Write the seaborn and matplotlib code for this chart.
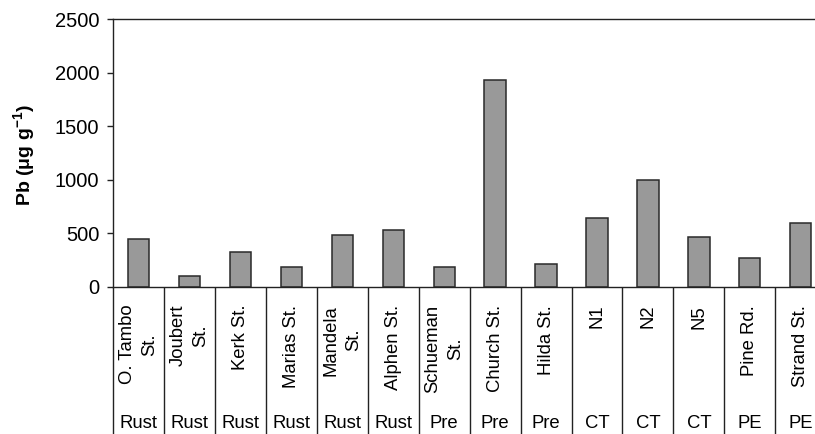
import matplotlib
matplotlib.use("Agg")
import matplotlib.pyplot as plt
import matplotlib.transforms as mtransforms
import seaborn as sns
import pandas as pd
import numpy as np

# Street dust Pb concentrations by site
sites = ["O. Tambo\nSt.", "Joubert\nSt.", "Kerk St.", "Marias St.", "Mandela\nSt.",
         "Alphen St.", "Schueman\nSt.", "Church St.", "Hilda St.", "N1", "N2", "N5",
         "Pine Rd.", "Strand St."]
cities = ["Rust", "Rust", "Rust", "Rust", "Rust", "Rust", "Pre", "Pre", "Pre",
          "CT", "CT", "CT", "PE", "PE"]
pb = [443, 98, 328, 185, 484, 527, 183, 1930, 212, 639, 998, 468, 272, 598]
yticks = [0, 500, 1000, 1500, 2000, 2500]

sns.set_style("ticks")
plt.rcParams["font.family"] = ["Liberation Sans", "DejaVu Sans"]
plt.rcParams["mathtext.fontset"] = "custom"
plt.rcParams["mathtext.rm"] = "Liberation Sans"
plt.rcParams["mathtext.bf"] = "Liberation Sans:bold"
for key in ["text.color", "axes.labelcolor", "xtick.labelcolor", "ytick.labelcolor"]:
    plt.rcParams[key] = "black"

df = pd.DataFrame({"site": sites, "city": cities, "pb": pb})

fig = plt.figure(figsize=(8.15, 4.34), dpi=100)
ax = fig.add_axes([0.139, 0.3394, 0.8747, 0.6161])

sns.barplot(data=df, x="site", y="pb", color="#999999", width=0.42,
            edgecolor="#2a2a2a", linewidth=1.1, saturation=1, ax=ax)

ax.set_xlim(-0.5, len(sites) - 0.5)
ax.set_ylim(0, 2500)
ax.set_yticks(yticks)
ax.tick_params(axis="y", labelsize=14.5, direction="out", length=4.5, width=1,
               color="#222222", labelcolor="black", pad=5.5)

# street names under each bar
ax.set_xticks(range(len(sites)))
ax.set_xticklabels(sites, rotation=90, fontsize=13.3, multialignment="center",
                   va="top", ha="center", linespacing=1.45, color="black")
ax.tick_params(axis="x", which="major", length=0, pad=13)

# long separators between categories
ax.set_xticks(np.arange(-0.5, len(sites), 1.0), minor=True)
ax.tick_params(axis="x", which="minor", direction="out", length=110, width=1,
               color="#222222")

# city labels on the second level
trans = mtransforms.blended_transform_factory(ax.transData, ax.transAxes)
for i, c in enumerate(cities):
    ax.text(i, -0.51, c, transform=trans, ha="center", va="center", fontsize=13.3,
            color="black")

for side in ["left", "top", "bottom"]:
    ax.spines[side].set_color("#222222")
    ax.spines[side].set_linewidth(1.0)
ax.spines["right"].set_visible(False)

ax.set_xlabel("")
ax.set_ylabel("")
fig.text(25 / 815, 0.643, r"Pb (μg g$^{\mathbf{-1}}$)", rotation=90, ha="center",
         va="center", fontsize=14, fontweight="bold", color="black")

fig.savefig("out.png", dpi=100)
